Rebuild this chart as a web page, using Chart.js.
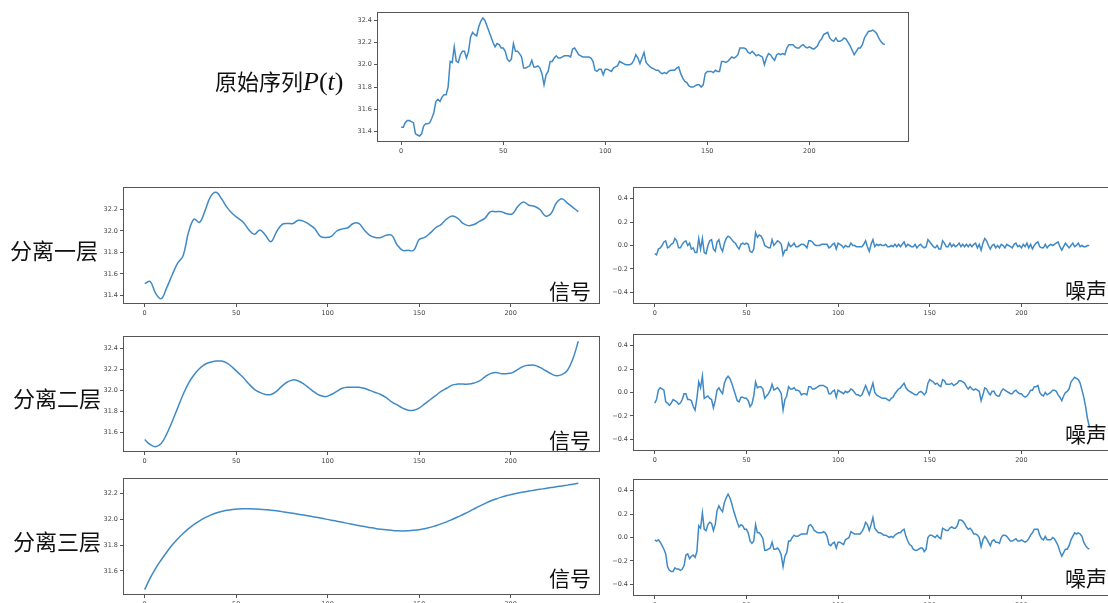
<!DOCTYPE html>
<html>
<head>
<meta charset="utf-8">
<script src="https://cdn.jsdelivr.net/npm/chart.js@4.4.0/dist/chart.umd.min.js"></script>
<style>
  html, body { margin: 0; padding: 0; background: #fff; }
  body { width: 1108px; height: 603px; overflow: hidden; position: relative; }
  canvas.panel { position: absolute; }
  .lab { position: absolute; white-space: nowrap; line-height: 1; color: #111;
         font-family: "Noto Sans CJK SC", "Noto Sans CJK JP", sans-serif; }
  .math { font-family: "Liberation Serif", "DejaVu Serif", serif; font-size: 26px; }
  .math i { font-style: italic; }
</style>
</head>
<body>
<script>
// ---- original price series P(t), t = 0 .. 237 ----
const PRICE = [
  31.44, 31.44, 31.48, 31.50, 31.50, 31.49, 31.48, 31.38, 31.37, 31.36,
  31.38, 31.45, 31.47, 31.47, 31.48, 31.52, 31.57, 31.67, 31.69, 31.67,
  31.71, 31.73, 31.73, 31.80, 32.03, 32.02, 32.16, 32.03, 32.02, 32.09,
  32.12, 32.12, 32.06, 32.12, 32.25, 32.29, 32.27, 32.26, 32.34, 32.39,
  32.42, 32.40, 32.35, 32.30, 32.25, 32.20, 32.16, 32.19, 32.18, 32.15,
  32.15, 32.12, 32.05, 32.03, 32.05, 32.19, 32.12, 32.12, 32.10, 32.07,
  31.97, 31.97, 31.98, 31.99, 32.04, 31.98, 31.98, 31.99, 31.97, 31.92,
  31.82, 31.91, 31.94, 32.03, 32.03, 32.06, 32.08, 32.06, 32.06, 32.07,
  32.08, 32.08, 32.08, 32.07, 32.14, 32.15, 32.12, 32.09, 32.08, 32.07,
  32.07, 32.07, 32.07, 32.06, 32.03, 31.95, 31.94, 31.96, 31.96, 31.91,
  31.96, 31.96, 31.95, 31.94, 31.97, 31.98, 31.99, 32.03, 32.02, 32.01,
  32.00, 32.00, 32.00, 32.01, 32.04, 32.09, 32.06, 32.01, 32.06, 32.11,
  32.02, 32.00, 31.98, 31.97, 31.96, 31.95, 31.95, 31.93, 31.92, 31.93,
  31.92, 31.94, 31.95, 31.95, 31.95, 31.97, 31.98, 31.92, 31.88, 31.85,
  31.84, 31.81, 31.80, 31.80, 31.81, 31.82, 31.82, 31.80, 31.82, 31.92,
  31.94, 31.94, 31.94, 31.93, 31.95, 31.94, 31.94, 32.03, 32.03, 32.02,
  32.03, 32.05, 32.07, 32.06, 32.07, 32.09, 32.15, 32.15, 32.15, 32.14,
  32.11, 32.10, 32.12, 32.10, 32.08, 32.09, 32.08, 32.07, 32.00, 32.06,
  32.10, 32.09, 32.06, 32.04, 32.09, 32.10, 32.09, 32.10, 32.09, 32.15,
  32.18, 32.18, 32.18, 32.16, 32.15, 32.15, 32.17, 32.18, 32.16, 32.15,
  32.16, 32.15, 32.14, 32.15, 32.17, 32.21, 32.23, 32.27, 32.28, 32.29,
  32.24, 32.22, 32.21, 32.24, 32.21, 32.21, 32.22, 32.24, 32.23, 32.20,
  32.17, 32.13, 32.09, 32.12, 32.15, 32.15, 32.18, 32.24, 32.27, 32.30,
  32.30, 32.31, 32.30, 32.28, 32.24, 32.21, 32.19, 32.18
];

// ---- smooth signal after each separation level, sampled every 3 steps ----
const SIGNAL_1 = [
  31.51, 31.53, 31.42, 31.37, 31.47, 31.59, 31.70, 31.77, 31.99, 32.11,
  32.08, 32.19, 32.32, 32.36, 32.30, 32.22, 32.16, 32.12, 32.08, 32.01,
  31.97, 32.01, 31.96, 31.90, 31.99, 32.06, 32.07, 32.07, 32.10, 32.09,
  32.06, 32.02, 31.95, 31.94, 31.95, 32.00, 32.02, 32.03, 32.07, 32.07,
  32.01, 31.96, 31.94, 31.94, 31.96, 31.96, 31.87, 31.82, 31.82, 31.82,
  31.92, 31.94, 31.98, 32.03, 32.06, 32.11, 32.14, 32.12, 32.07, 32.05,
  32.06, 32.09, 32.12, 32.18, 32.18, 32.18, 32.16, 32.16, 32.23, 32.27,
  32.24, 32.23, 32.20, 32.14, 32.16, 32.26, 32.30, 32.26, 32.22, 32.18
];
const SIGNAL_2 = [
  31.53, 31.48, 31.46, 31.49, 31.58, 31.70, 31.83, 31.96, 32.07, 32.15,
  32.21, 32.25, 32.27, 32.28, 32.28, 32.26, 32.22, 32.17, 32.12, 32.06,
  32.01, 31.98, 31.96, 31.96, 31.99, 32.04, 32.08, 32.10, 32.09, 32.06,
  32.02, 31.98, 31.95, 31.94, 31.96, 31.99, 32.02, 32.03, 32.03, 32.03,
  32.02, 32.00, 31.98, 31.96, 31.93, 31.89, 31.86, 31.83, 31.81, 31.81,
  31.83, 31.87, 31.91, 31.95, 31.99, 32.02, 32.05, 32.06, 32.06, 32.06,
  32.07, 32.09, 32.13, 32.16, 32.17, 32.16, 32.16, 32.17, 32.20, 32.23,
  32.24, 32.24, 32.22, 32.19, 32.16, 32.14, 32.15, 32.19, 32.30, 32.47
];
const SIGNAL_3 = [
  31.455, 31.545, 31.620, 31.685, 31.745, 31.800, 31.848, 31.890, 31.927, 31.960,
  31.988, 32.012, 32.032, 32.048, 32.060, 32.069, 32.075, 32.079, 32.081, 32.081,
  32.080, 32.078, 32.074, 32.070, 32.065, 32.059, 32.053, 32.046, 32.039, 32.032,
  32.025, 32.017, 32.009, 32.001, 31.993, 31.985, 31.976, 31.968, 31.959, 31.951,
  31.943, 31.936, 31.929, 31.923, 31.918, 31.914, 31.911, 31.910, 31.911, 31.914,
  31.919, 31.927, 31.937, 31.950, 31.964, 31.980, 31.998, 32.017, 32.037, 32.057,
  32.080, 32.102, 32.122, 32.141, 32.157, 32.171, 32.183, 32.194, 32.203, 32.211,
  32.218, 32.225, 32.232, 32.238, 32.245, 32.251, 32.258, 32.264, 32.271, 32.278
];

// ---- noise left over at each separation level, t = 0 .. 237 ----
const NOISE_1 = [
  -0.07, -0.08, -0.03, -0.02, 0.00, 0.03, 0.04, -0.02, -0.01, 0.01,
  0.02, 0.06, 0.04, -0.02, -0.02, 0.01, 0.03, 0.04, 0.00, 0.02,
  -0.03, -0.02, -0.06, -0.06, 0.06, -0.03, 0.06, -0.06, -0.07, 0.00,
  0.04, 0.05, -0.03, -0.05, 0.03, 0.05, -0.02, -0.05, 0.02, 0.06,
  0.08, 0.07, 0.05, 0.03, 0.02, -0.01, -0.03, 0.01, 0.02, 0.01,
  0.02, 0.01, -0.05, -0.06, -0.03, 0.11, 0.07, 0.09, 0.08, 0.05,
  0.00, -0.01, -0.02, -0.02, 0.05, 0.00, 0.02, 0.04, 0.03, 0.01,
  -0.08, -0.04, -0.04, 0.02, -0.01, 0.00, 0.02, -0.01, -0.01, 0.00,
  0.01, 0.01, 0.00, -0.02, 0.04, 0.04, 0.03, 0.01, 0.00, 0.00,
  0.00, 0.01, 0.01, 0.01, 0.01, -0.02, -0.01, 0.01, 0.02, -0.03,
  0.02, 0.01, 0.00, -0.02, 0.00, -0.01, -0.01, 0.02, 0.00, 0.00,
  -0.01, -0.01, -0.01, -0.01, 0.01, 0.04, -0.01, -0.05, 0.01, 0.05,
  -0.01, 0.01, 0.00, 0.01, 0.00, 0.00, 0.01, -0.01, -0.01, 0.00,
  -0.01, 0.01, -0.01, 0.01, -0.01, 0.01, 0.03, -0.01, 0.01, 0.00,
  -0.01, -0.01, 0.01, -0.02, 0.00, 0.01, -0.01, -0.02, -0.01, 0.05,
  0.03, 0.01, -0.01, -0.02, 0.00, -0.03, -0.03, 0.04, 0.02, -0.01,
  -0.01, 0.02, -0.01, 0.01, -0.01, 0.00, 0.02, -0.01, 0.01, -0.01,
  0.01, -0.01, 0.01, -0.01, 0.01, 0.02, -0.02, 0.01, -0.04, 0.02,
  0.06, 0.04, 0.00, -0.03, 0.00, 0.01, -0.02, 0.00, -0.02, 0.01,
  0.00, -0.02, 0.01, 0.00, -0.01, -0.02, 0.01, 0.02, -0.01, 0.00,
  -0.02, 0.01, -0.01, 0.02, -0.02, 0.01, -0.03, 0.00, 0.02, 0.03,
  -0.01, -0.02, -0.02, 0.01, -0.02, 0.00, 0.01, 0.00, 0.01, 0.02,
  0.03, -0.01, -0.04, -0.01, 0.02, 0.00, -0.02, 0.00, 0.02, -0.01,
  0.00, 0.02, -0.01, 0.00, -0.01, -0.01, 0.00, 0.00
];
const NOISE_2 = [
  -0.09, -0.06, 0.02, 0.04, 0.03, 0.02, -0.08, -0.09, -0.11, -0.09,
  -0.06, -0.07, -0.08, -0.10, -0.09, -0.06, -0.01, -0.01, -0.06, -0.06,
  -0.07, -0.12, -0.15, -0.05, 0.09, 0.04, 0.14, -0.05, -0.04, -0.03,
  -0.05, -0.06, -0.13, -0.07, 0.02, 0.04, 0.01, -0.01, 0.08, 0.12,
  0.14, 0.12, 0.08, 0.03, -0.02, -0.07, -0.08, -0.04, -0.04, -0.05,
  -0.05, -0.07, -0.12, -0.10, -0.03, 0.09, 0.04, 0.05, 0.05, 0.03,
  -0.05, -0.03, -0.01, 0.02, 0.07, 0.02, 0.03, 0.04, 0.02, -0.01,
  -0.15, -0.06, -0.03, 0.05, 0.03, 0.03, 0.04, 0.02, 0.02, 0.01,
  -0.02, -0.01, -0.01, -0.02, 0.05, 0.05, 0.03, 0.03, 0.04, 0.05,
  0.06, 0.06, 0.06, 0.05, 0.04, -0.01, -0.01, 0.01, 0.02, -0.04,
  0.02, 0.01, 0.00, -0.01, 0.01, 0.00, 0.01, 0.03, 0.02, 0.00,
  -0.02, -0.02, -0.03, -0.02, 0.02, 0.06, 0.02, -0.02, 0.03, 0.08,
  0.00, -0.02, -0.03, -0.04, -0.05, -0.05, -0.05, -0.06, -0.07, -0.05,
  -0.04, -0.01, 0.01, 0.03, 0.04, 0.06, 0.08, 0.04, 0.02, 0.01,
  0.00, -0.01, -0.02, -0.02, 0.00, 0.01, 0.00, -0.02, 0.00, 0.08,
  0.11, 0.10, 0.09, 0.07, 0.08, 0.06, 0.05, 0.11, 0.10, 0.07,
  0.07, 0.07, 0.08, 0.06, 0.07, 0.08, 0.10, 0.10, 0.09, 0.08,
  0.05, 0.03, 0.05, 0.03, 0.02, 0.03, 0.02, 0.01, -0.07, -0.02,
  0.04, 0.03, 0.00, -0.02, 0.01, 0.01, -0.02, -0.03, -0.03, 0.01,
  0.03, 0.02, 0.01, 0.00, -0.01, -0.01, 0.01, 0.02, 0.00, -0.01,
  -0.01, -0.03, -0.04, -0.03, -0.01, 0.02, 0.02, 0.05, 0.05, 0.06,
  0.00, -0.02, -0.03, 0.00, -0.02, -0.01, 0.00, 0.02, 0.02, 0.01,
  -0.02, -0.04, -0.07, -0.03, 0.00, 0.01, 0.03, 0.09, 0.11, 0.13,
  0.12, 0.11, 0.08, 0.02, -0.04, -0.12, -0.22, -0.29
];
const NOISE_3 = [
  -0.02, -0.03, -0.02, -0.04, -0.07, -0.10, -0.14, -0.25, -0.28, -0.29,
  -0.29, -0.26, -0.27, -0.27, -0.28, -0.27, -0.24, -0.15, -0.14, -0.18,
  -0.16, -0.15, -0.17, -0.12, 0.10, 0.08, 0.21, 0.07, 0.06, 0.11,
  0.13, 0.12, 0.06, 0.11, 0.23, 0.27, 0.24, 0.22, 0.30, 0.34,
  0.37, 0.34, 0.29, 0.23, 0.18, 0.13, 0.09, 0.11, 0.10, 0.07,
  0.07, 0.04, -0.03, -0.05, -0.03, 0.11, 0.04, 0.04, 0.02, -0.01,
  -0.11, -0.11, -0.10, -0.09, -0.04, -0.10, -0.10, -0.09, -0.11, -0.15,
  -0.25, -0.16, -0.13, -0.03, -0.03, 0.00, 0.02, 0.01, 0.01, 0.02,
  0.03, 0.03, 0.03, 0.03, 0.10, 0.11, 0.09, 0.06, 0.05, 0.04,
  0.04, 0.04, 0.05, 0.04, 0.01, -0.06, -0.07, -0.05, -0.04, -0.09,
  -0.04, -0.04, -0.05, -0.06, -0.02, -0.01, 0.00, 0.05, 0.04, 0.03,
  0.03, 0.03, 0.03, 0.05, 0.08, 0.13, 0.11, 0.06, 0.11, 0.17,
  0.08, 0.06, 0.04, 0.04, 0.03, 0.02, 0.02, 0.01, 0.00, 0.01,
  0.00, 0.02, 0.03, 0.04, 0.04, 0.06, 0.07, 0.01, -0.03, -0.06,
  -0.07, -0.10, -0.11, -0.11, -0.10, -0.09, -0.09, -0.12, -0.10, 0.00,
  0.02, 0.02, 0.01, 0.00, 0.02, 0.00, -0.01, 0.08, 0.07, 0.06,
  0.06, 0.08, 0.09, 0.08, 0.08, 0.10, 0.15, 0.15, 0.14, 0.12,
  0.09, 0.07, 0.08, 0.06, 0.03, 0.03, 0.02, 0.00, -0.08, -0.02,
  0.01, -0.01, -0.04, -0.07, -0.03, -0.02, -0.04, -0.04, -0.05, 0.00,
  0.02, 0.02, 0.01, -0.01, -0.03, -0.03, -0.02, -0.01, -0.03, -0.03,
  -0.02, -0.03, -0.04, -0.03, -0.01, 0.02, 0.04, 0.07, 0.07, 0.07,
  0.02, -0.01, -0.02, 0.01, -0.02, -0.02, -0.02, 0.00, -0.01, -0.04,
  -0.07, -0.12, -0.16, -0.13, -0.10, -0.10, -0.07, -0.02, 0.01, 0.04,
  0.03, 0.04, 0.03, 0.01, -0.04, -0.07, -0.09, -0.10
];

// ---- time indices and tick labels ----
const T_FULL = PRICE.map((_, i) => i);           // every step
const T_SMOOTH = SIGNAL_1.map((_, i) => i * 3);  // every third step
const X_TICKS = [0, 50, 100, 150, 200];
const X_TICK_LABELS = ["0", "50", "100", "150", "200"];
const Y_TICKS_PRICE = [31.4, 31.6, 31.8, 32.0, 32.2, 32.4];
const Y_LABELS_PRICE = ["31.4", "31.6", "31.8", "32.0", "32.2", "32.4"];
const Y_TICKS_SIG1 = [31.4, 31.6, 31.8, 32.0, 32.2];
const Y_LABELS_SIG1 = ["31.4", "31.6", "31.8", "32.0", "32.2"];
const Y_TICKS_SIG2 = [31.6, 31.8, 32.0, 32.2, 32.4];
const Y_LABELS_SIG2 = ["31.6", "31.8", "32.0", "32.2", "32.4"];
const Y_TICKS_SIG3 = [31.6, 31.8, 32.0, 32.2];
const Y_LABELS_SIG3 = ["31.6", "31.8", "32.0", "32.2"];
const Y_TICKS_NOISE = [-0.4, -0.2, 0.0, 0.2, 0.4];
const Y_LABELS_NOISE = ["\u22120.4", "\u22120.2", "0.0", "0.2", "0.4"];

// ---- drawing ----
const LINE_COLOR = "#3f8ac6";
const AXIS_COLOR = "#555";
const TICK_FONT = { family: "DejaVu Sans", size: 6.5 };
const N_LAST = PRICE.length - 1;
const X_MIN = -0.05 * N_LAST, X_MAX = 1.05 * N_LAST;

// outline of the axes box on all four sides
const boxOutline = {
  id: "boxOutline",
  afterDraw(chart) {
    const { ctx, chartArea: a } = chart;
    ctx.save();
    ctx.strokeStyle = AXIS_COLOR;
    ctx.lineWidth = 1;
    ctx.strokeRect(Math.round(a.left) + 0.5, Math.round(a.top) + 0.5,
                   Math.round(a.right - a.left) - 1, Math.round(a.bottom - a.top) - 1);
    ctx.restore();
  }
};

function autoRange(values) {
  const lo = Math.min(...values), hi = Math.max(...values);
  const pad = (hi - lo) * 0.05;
  return [lo - pad, hi + pad];
}

function panel(box, xs, ys, yTicks, yLabels, yRange, smooth) {
  const padL = 34, padT = 8, padR = 8, padB = 18;
  const w = box.R - box.L + padL + padR;
  const h = box.B - box.T + padT + padB;
  const cv = document.createElement("canvas");
  cv.className = "panel";
  cv.width = w; cv.height = h;
  cv.style.width = w + "px"; cv.style.height = h + "px";
  cv.style.left = (box.L - padL) + "px";
  cv.style.top = (box.T - padT) + "px";
  document.body.appendChild(cv);

  const tickStyle = { font: TICK_FONT, color: "#444", padding: 2, autoSkip: false, maxRotation: 0 };
  const gridStyle = { display: true, drawOnChartArea: false, drawTicks: true, tickLength: 3, color: AXIS_COLOR, lineWidth: 1 };

  new Chart(cv, {
    type: "line",
    data: {
      datasets: [{
        data: xs.map((x, i) => ({ x: x, y: ys[i] })),
        borderColor: LINE_COLOR,
        borderWidth: 1.5,
        pointRadius: 0,
        fill: false,
        tension: smooth ? 0.4 : 0
      }]
    },
    options: {
      responsive: false,
      animation: false,
      devicePixelRatio: 1,
      events: [],
      layout: { padding: { top: padT, right: padR, left: 0, bottom: 0 } },
      plugins: { legend: { display: false }, tooltip: { enabled: false } },
      scales: {
        x: {
          type: "linear", min: X_MIN, max: X_MAX,
          afterBuildTicks(s) { s.ticks = X_TICKS.map(v => ({ value: v })); },
          afterFit(s) { s.height = padB; },
          ticks: Object.assign({}, tickStyle, { callback: (v, i) => X_TICK_LABELS[i] }),
          grid: gridStyle,
          border: { display: false }
        },
        y: {
          type: "linear", min: yRange[0], max: yRange[1],
          afterBuildTicks(s) { s.ticks = yTicks.map(v => ({ value: v })); },
          afterFit(s) { s.width = padL; },
          ticks: Object.assign({}, tickStyle, { callback: (v, i) => yLabels[i] }),
          grid: gridStyle,
          border: { display: false }
        }
      }
    },
    plugins: [boxOutline]
  });
}

const NOISE_RANGE = [-0.5, 0.5];

panel({ L: 377, T: 12, R: 909, B: 142 }, T_FULL, PRICE, Y_TICKS_PRICE, Y_LABELS_PRICE, autoRange(PRICE), false);

panel({ L: 123, T: 187, R: 600, B: 304 }, T_SMOOTH, SIGNAL_1, Y_TICKS_SIG1, Y_LABELS_SIG1, autoRange(SIGNAL_1), true);
panel({ L: 633, T: 187, R: 1111, B: 304 }, T_FULL, NOISE_1, Y_TICKS_NOISE, Y_LABELS_NOISE, NOISE_RANGE, false);

panel({ L: 123, T: 336, R: 600, B: 452 }, T_SMOOTH, SIGNAL_2, Y_TICKS_SIG2, Y_LABELS_SIG2, autoRange(SIGNAL_2), true);
panel({ L: 633, T: 334, R: 1111, B: 451 }, T_FULL, NOISE_2, Y_TICKS_NOISE, Y_LABELS_NOISE, NOISE_RANGE, false);

panel({ L: 123, T: 478, R: 600, B: 595 }, T_SMOOTH, SIGNAL_3, Y_TICKS_SIG3, Y_LABELS_SIG3, autoRange(SIGNAL_3), true);
panel({ L: 633, T: 479, R: 1111, B: 596 }, T_FULL, NOISE_3, Y_TICKS_NOISE, Y_LABELS_NOISE, NOISE_RANGE, false);

// ---- captions ----
function caption(html, left, centerY, size) {
  const d = document.createElement("div");
  d.className = "lab";
  d.innerHTML = html;
  d.style.left = left + "px";
  d.style.top = (centerY - size / 2) + "px";
  d.style.fontSize = size + "px";
  document.body.appendChild(d);
}
caption('原始序列<span class="math"><i>P</i>(<i>t</i>)</span>', 215, 80, 22);
caption("分离一层", 10, 249, 22);
caption("分离二层", 13, 397, 22);
caption("分离三层", 13, 540, 22);
caption("信号", 549, 290, 21);
caption("信号", 549, 439, 21);
caption("信号", 549, 577, 21);
caption("噪声", 1065, 289, 21);
caption("噪声", 1065, 433, 21);
caption("噪声", 1065, 577, 21);
</script>
</body>
</html>
